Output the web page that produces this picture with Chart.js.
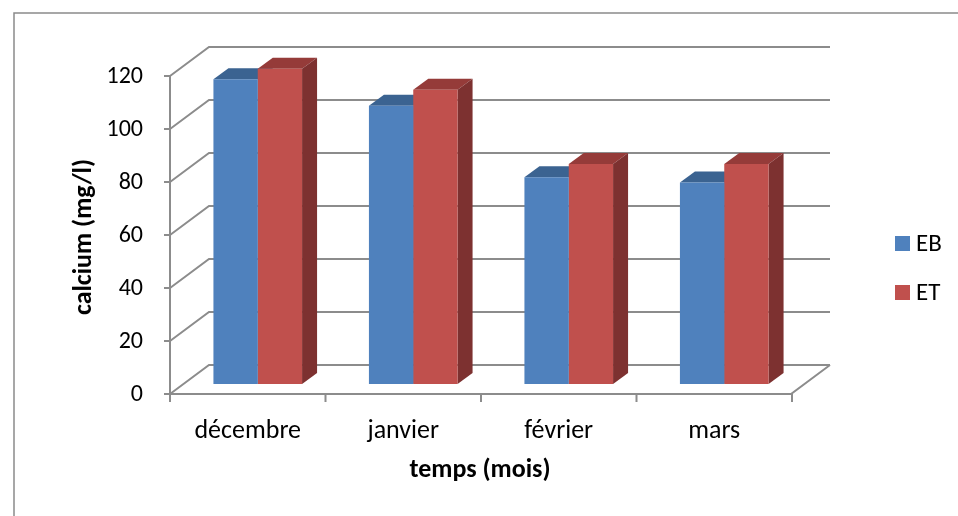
<!DOCTYPE html>
<html>
<head>
<meta charset="utf-8">
<script src="https://cdn.jsdelivr.net/npm/chart.js@4.4.1/dist/chart.umd.min.js"></script>
<style>
  html, body { margin: 0; padding: 0; background: #ffffff; }
  #wrap { width: 958px; height: 516px; position: relative; }
</style>
</head>
<body>
<div id="wrap"><canvas id="chart"></canvas></div>
<script>
// Monthly calcium concentration (mg/l) for two sampling points
const months = ['décembre', 'janvier', 'février', 'mars'];
const ebValues = [115, 105, 78, 76];
const etValues = [119, 111, 83, 83];
const seriesNames = ['EB', 'ET'];
const yTicks = [0, 20, 40, 60, 80, 100, 120];
const xTitle = 'temps (mois)';
const yTitle = 'calcium (mg/l)';

const FONT = 'Carlito, Calibri, Lato, sans-serif';

// Face colours of the extruded columns: front, top, side
const faces = [
  { front: '#4F81BD', top: '#3B6391', side: '#365D8A' },
  { front: '#C0504D', top: '#953B39', side: '#7D3130' }
];

// Depth offsets of the pseudo-3D box relative to the plane of the bar fronts
const FRONT = { dx: -10, dy: 10 };   // front edge of the floor / value axis
const BACK = { dx: 29, dy: -19 };    // back wall
const BAR_DEPTH = { dx: 15, dy: -11 };
const GRID = '#8c8c8c';

const boxPlugin = {
  id: 'box3d',
  beforeDatasetsDraw(chart) {
    const { ctx, chartArea: a, scales: { x, y } } = chart;
    const fl = a.left + FRONT.dx, fr = a.right + FRONT.dx - 1;
    const bl = a.left + BACK.dx, br = a.right + BACK.dx - 1;
    const yF = v => y.getPixelForValue(v) + FRONT.dy;
    const yB = v => y.getPixelForValue(v) + BACK.dy;
    ctx.save();

    // outer frame
    ctx.strokeStyle = '#8a8a8a';
    ctx.lineWidth = 1.5;
    ctx.beginPath();
    ctx.moveTo(14, 530); ctx.lineTo(14, 13); ctx.lineTo(970, 13);
    ctx.stroke();

    ctx.strokeStyle = GRID;
    ctx.lineWidth = 2;
    // back wall gridlines and side wall diagonals
    yTicks.forEach(v => {
      ctx.beginPath();
      ctx.moveTo(fl, yF(v)); ctx.lineTo(bl, yB(v)); ctx.lineTo(br, yB(v));
      ctx.stroke();
    });
    // floor front and right edges
    ctx.beginPath();
    ctx.moveTo(fl, yF(0)); ctx.lineTo(fr, yF(0)); ctx.lineTo(br, yB(0));
    ctx.stroke();
    // value axis line with tick marks
    ctx.beginPath();
    ctx.moveTo(fl, yF(0)); ctx.lineTo(fl, yF(yTicks[yTicks.length - 1]));
    yTicks.forEach(v => { ctx.moveTo(fl - 6, yF(v)); ctx.lineTo(fl, yF(v)); });
    // category tick marks
    for (let i = 0; i <= months.length; i++) {
      const xb = x.getPixelForValue(i - 0.5) + FRONT.dx;
      ctx.moveTo(xb, yF(0)); ctx.lineTo(xb, yF(0) + 8);
    }
    ctx.stroke();

    // value labels
    ctx.fillStyle = '#000';
    ctx.font = '24px ' + FONT;
    ctx.textAlign = 'right';
    ctx.textBaseline = 'middle';
    yTicks.forEach(v => ctx.fillText(String(v), fl - 27, yF(v) + 1));

    // category labels
    ctx.font = '26px ' + FONT;
    ctx.textAlign = 'center';
    ctx.textBaseline = 'alphabetic';
    months.forEach((m, i) => ctx.fillText(m, x.getPixelForValue(i) + FRONT.dx, 438));

    // axis titles
    ctx.font = 'bold 26px ' + FONT;
    ctx.fillText(xTitle, 480, 477);
    ctx.save();
    ctx.translate(84, 237);
    ctx.rotate(-Math.PI / 2);
    ctx.textBaseline = 'middle';
    ctx.fillText(yTitle, 0, 0);
    ctx.restore();

    // legend
    ctx.font = '25px ' + FONT;
    ctx.textAlign = 'left';
    ctx.textBaseline = 'middle';
    chart.data.datasets.forEach((ds, k) => {
      const ly = 236 + k * 49;
      ctx.fillStyle = faces[k].front;
      ctx.fillRect(895, ly, 15, 15);
      ctx.fillStyle = '#000';
      ctx.fillText(ds.label, 916, ly + 9);
    });

    // top and side faces of each column (front faces are drawn by the bar elements)
    chart.data.datasets.forEach((ds, k) => {
      const meta = chart.getDatasetMeta(k);
      meta.data.forEach(bar => {
        const { x: cx, y: top, base, width } = bar.getProps(['x', 'y', 'base', 'width'], true);
        const l = cx - width / 2, r = cx + width / 2;
        ctx.fillStyle = faces[k].top;
        ctx.beginPath();
        ctx.moveTo(l, top); ctx.lineTo(r, top);
        ctx.lineTo(r + BAR_DEPTH.dx, top + BAR_DEPTH.dy);
        ctx.lineTo(l + BAR_DEPTH.dx, top + BAR_DEPTH.dy);
        ctx.closePath(); ctx.fill();
        ctx.fillStyle = faces[k].side;
        ctx.beginPath();
        ctx.moveTo(r, top); ctx.lineTo(r + BAR_DEPTH.dx, top + BAR_DEPTH.dy);
        ctx.lineTo(r + BAR_DEPTH.dx, base + BAR_DEPTH.dy);
        ctx.lineTo(r, base);
        ctx.closePath(); ctx.fill();
      });
    });
    ctx.restore();
  }
};

new Chart(document.getElementById('chart'), {
  type: 'bar',
  data: {
    labels: months,
    datasets: [
      { label: seriesNames[0], data: ebValues, backgroundColor: faces[0].front },
      { label: seriesNames[1], data: etValues, backgroundColor: faces[1].front }
    ]
  },
  options: {
    responsive: true,
    maintainAspectRatio: false,
    animation: false,
    events: [],
    layout: { padding: { left: 180, right: 156, top: 66, bottom: 132 } },
    datasets: { bar: { categoryPercentage: 0.57, barPercentage: 1.0, borderWidth: 0 } },
    plugins: { legend: { display: false }, tooltip: { enabled: false } },
    scales: {
      x: { display: false },
      y: { display: false, min: 0, max: 120 }
    }
  },
  plugins: [boxPlugin]
});
</script>
</body>
</html>
